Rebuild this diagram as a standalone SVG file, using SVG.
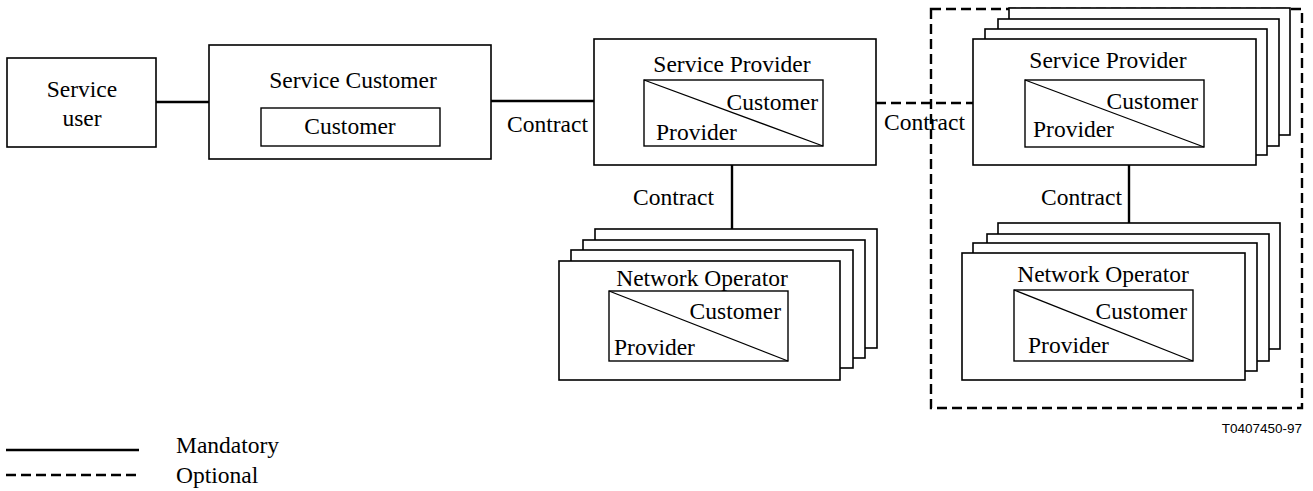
<svg xmlns="http://www.w3.org/2000/svg" width="1313" height="491" viewBox="0 0 1313 491">
<style>
.box{fill:#fff;stroke:#000;stroke-width:1.6}
.in{fill:#fff;stroke:#000;stroke-width:1.4}
.diag{stroke:#000;stroke-width:1.3}
.t{font-family:"Liberation Serif","Times New Roman",serif;font-size:23.5px;fill:#000}
.c{text-anchor:middle}
.e{text-anchor:end}
.solid{stroke:#000;stroke-width:2.4;fill:none}
.dash{stroke:#000;stroke-width:2.4;fill:none;stroke-dasharray:10 5}
.s{font-family:"Liberation Sans",Arial,sans-serif;font-size:13.5px;fill:#000}
</style>
<g id="connectors">
<line class="solid" x1="156" y1="102" x2="209" y2="102"/>
<line class="solid" x1="491" y1="101" x2="594" y2="101"/>
<line class="dash" x1="876" y1="103" x2="973" y2="103"/>
<line class="solid" x1="732" y1="165" x2="732" y2="229"/>
<line class="solid" x1="1129" y1="165" x2="1129" y2="223"/>
<text class="t" x="507" y="132">Contract</text>
<text class="t" x="884" y="130">Contract</text>
<text class="t" x="633" y="205">Contract</text>
<text class="t" x="1041" y="205">Contract</text>
</g>
<g id="optional-group">
<rect class="dash" x="931" y="9" width="371" height="399"/>
</g>
<g id="service-user">
<rect class="box" x="7" y="58" width="149" height="89"/>
<text class="t c" x="82" y="97">Service</text>
<text class="t c" x="82" y="126">user</text>
</g>
<g id="service-customer">
<rect class="box" x="209" y="45" width="282" height="114"/>
<text class="t c" x="353" y="88">Service Customer</text>
<rect class="in" x="261" y="108" width="179" height="38"/>
<text class="t c" x="350" y="134">Customer</text>
</g>
<g id="service-provider">
<rect class="box" x="594" y="39" width="282" height="126"/>
<text class="t c" x="732" y="72">Service Provider</text>
<rect class="in" x="644" y="80" width="179" height="66"/>
<line class="diag" x1="644" y1="80" x2="823" y2="146"/>
<text class="t e" x="818" y="110">Customer</text>
<text class="t" x="656" y="140">Provider</text>
</g>
<g id="service-provider-stack">
<rect class="box" x="1009" y="8" width="281" height="127"/>
<rect class="box" x="998" y="19" width="281" height="127"/>
<rect class="box" x="985" y="29" width="282" height="126"/>
<rect class="box" x="973" y="39" width="283" height="126"/>
<text class="t c" x="1108" y="68">Service Provider</text>
<rect class="in" x="1025" y="80" width="179" height="67"/>
<line class="diag" x1="1025" y1="80" x2="1204" y2="147"/>
<text class="t e" x="1198" y="109">Customer</text>
<text class="t" x="1033" y="137">Provider</text>
</g>
<g id="network-operator-stack-1">
<rect class="box" x="595" y="229" width="282" height="119"/>
<rect class="box" x="583" y="240" width="282" height="118"/>
<rect class="box" x="571" y="250" width="282" height="118"/>
<rect class="box" x="559" y="261" width="281" height="119"/>
<text class="t c" x="702" y="286">Network Operator</text>
<rect class="in" x="609" y="291" width="179" height="70"/>
<line class="diag" x1="609" y1="291" x2="788" y2="361"/>
<text class="t e" x="781" y="319">Customer</text>
<text class="t" x="614" y="355">Provider</text>
</g>
<g id="network-operator-stack-2">
<rect class="box" x="998" y="223" width="282" height="126"/>
<rect class="box" x="987" y="234" width="282" height="127"/>
<rect class="box" x="973" y="243" width="284" height="128"/>
<rect class="box" x="962" y="253" width="283" height="127"/>
<text class="t c" x="1103" y="282">Network Operator</text>
<rect class="in" x="1014" y="290" width="179" height="71"/>
<line class="diag" x1="1014" y1="290" x2="1193" y2="361"/>
<text class="t e" x="1187" y="319">Customer</text>
<text class="t" x="1028" y="353">Provider</text>
</g>
<g id="legend">
<line class="solid" x1="6" y1="450" x2="139" y2="450"/>
<line class="dash" x1="6" y1="475" x2="139" y2="475"/>
<text class="t" x="176" y="453">Mandatory</text>
<text class="t" x="176" y="483">Optional</text>
</g>
<text class="s e" x="1302" y="433">T0407450-97</text>
</svg>
